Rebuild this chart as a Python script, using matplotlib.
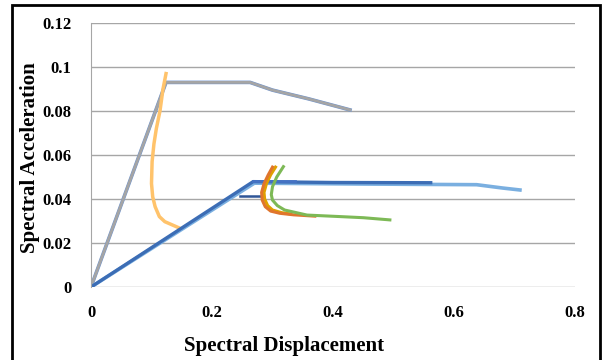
import matplotlib.pyplot as plt
from matplotlib.patches import Rectangle

plt.rcParams['font.family'] = ['Liberation Serif', 'DejaVu Serif']

# capacity curve, stiff system (gray)
cap1_x = [0, 0.124, 0.263, 0.30, 0.36, 0.428]
cap1_y = [0, 0.093, 0.093, 0.0895, 0.0855, 0.0805]

# demand curve, stiff system (light orange)
dem1_x = [0.124, 0.119, 0.114, 0.108, 0.104, 0.101, 0.100, 0.102, 0.106, 0.113, 0.122, 0.147]
dem1_y = [0.097, 0.090, 0.080, 0.072, 0.065, 0.057, 0.047, 0.041, 0.0365, 0.032, 0.0297, 0.0267]

# capacity curves, flexible system (blues)
cap2_x = [0, 0.268, 0.40, 0.5615]
cap2_y = [0, 0.0479, 0.0475, 0.0474]
cap3_x = [0, 0.270, 0.45, 0.6375, 0.68, 0.709]
cap3_y = [0, 0.0472, 0.0468, 0.0465, 0.045, 0.0441]
bil_x = [0.246, 0.279]
bil_y = [0.0415, 0.0415]
top_x = [0.268, 0.337]
top_y = [0.0482, 0.0482]

# demand curves, flexible system
dem2_x = [0.300, 0.293, 0.286, 0.282, 0.283, 0.288, 0.297, 0.312, 0.335, 0.37]
dem2_y = [0.0545, 0.051, 0.047, 0.043, 0.0395, 0.0365, 0.0345, 0.0335, 0.0328, 0.0322]
dem3_x = [0.305, 0.297, 0.290, 0.286, 0.287, 0.292, 0.300, 0.315, 0.33]
dem3_y = [0.0545, 0.051, 0.047, 0.043, 0.040, 0.037, 0.035, 0.0338, 0.0332]
dem4_x = [0.318, 0.307, 0.300, 0.298, 0.300, 0.308, 0.320, 0.357, 0.412, 0.45, 0.494]
dem4_y = [0.0547, 0.050, 0.0456, 0.042, 0.0395, 0.037, 0.035, 0.0327, 0.032, 0.0315, 0.0305]

fig = plt.figure(figsize=(6.02, 3.6), dpi=100)
fig.patches.append(Rectangle((12 / 602, -0.05), 588 / 602, 1 - 5 / 360 + 0.05,
                             transform=fig.transFigure, fill=False,
                             edgecolor='black', linewidth=2))
ax = fig.add_axes([91 / 602, 73 / 360, 484 / 602, 264 / 360])

ax.plot(cap1_x, cap1_y, color='#6F95D2', linewidth=2.6)
ax.plot(cap1_x, cap1_y, color='#A5A5A5', linewidth=2.0)
ax.plot(dem1_x, dem1_y, color='#FFC36B', linewidth=2.5)
ax.plot(cap3_x, cap3_y, color='#7AAFE0', linewidth=2.6)
ax.plot(cap2_x, cap2_y, color='#3C6DB5', linewidth=2.4)
ax.plot(top_x, top_y, color='#4472C4', linewidth=2.0)
ax.plot(bil_x, bil_y, color='#2F5597', linewidth=1.8)
ax.plot(dem3_x, dem3_y, color='#E0A000', linewidth=2.2)
ax.plot(dem2_x, dem2_y, color='#E0752D', linewidth=2.2)
ax.plot(dem4_x, dem4_y, color='#7DB956', linewidth=2.2)

ax.set_xlim(0, 0.8)
ax.set_ylim(0, 0.12)
ax.set_xticks([0, 0.2, 0.4, 0.6, 0.8])
ax.set_xticklabels(['0', '0.2', '0.4', '0.6', '0.8'])
ax.set_yticks([0, 0.02, 0.04, 0.06, 0.08, 0.1, 0.12])
ax.set_yticklabels(['0', '0.02', '0.04', '0.06', '0.08', '0.1', '0.12'])
ax.grid(axis='y', color='#A6A6A6', linewidth=1)
ax.set_axisbelow(True)
for s in ['top', 'right', 'bottom']:
    ax.spines[s].set_visible(False)
ax.spines['left'].set_color('#A6A6A6')
ax.tick_params(axis='x', length=0, labelsize=12, pad=13)
ax.tick_params(axis='y', length=0, labelsize=12, pad=14)
for lab in ax.get_xticklabels() + ax.get_yticklabels():
    lab.set_fontweight('bold')

fig.text(284 / 602, 1 - 346 / 360, 'Spectral Displacement', fontsize=15,
         fontweight='bold', ha='center', va='center')
fig.text(30 / 602, 1 - 158 / 360, 'Spectral Acceleration', fontsize=15,
         fontweight='bold', ha='center', va='center', rotation=90)

fig.savefig('out.png', dpi=100)
